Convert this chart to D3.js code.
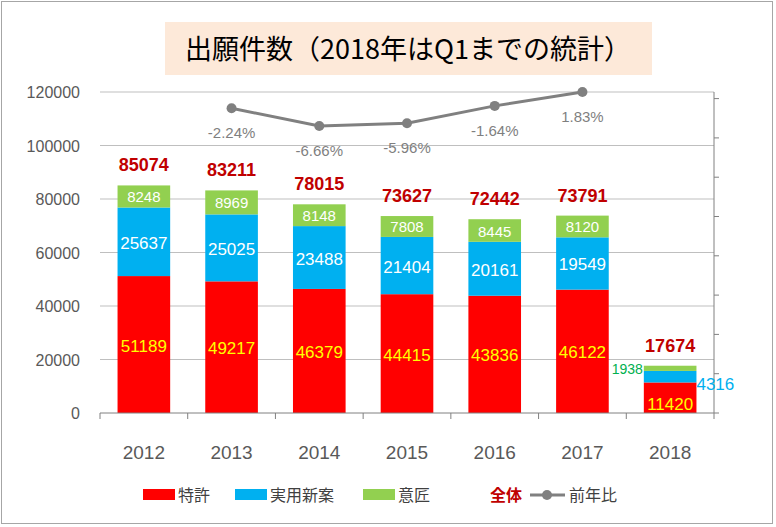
<!DOCTYPE html>
<html><head><meta charset="utf-8">
<script src="https://cdn.jsdelivr.net/npm/d3@7"></script>
<style>body{margin:0;background:#fff;font-family:"Liberation Sans",Arial,sans-serif}</style>
</head><body>
<svg id="chart" width="776" height="527"></svg>
<script>
const years = ["2012","2013","2014","2015","2016","2017","2018"];
const patent = [51189,49217,46379,44415,43836,46122,11420];
const utility = [25637,25025,23488,21404,20161,19549,4316];
const design = [8248,8969,8148,7808,8445,8120,1938];
const total = [85074,83211,78015,73627,72442,73791,17674];
const yoy = [null,-2.24,-6.66,-5.96,-1.64,1.83,null];
const yTicks = [0,20000,40000,60000,80000,100000,120000];

const svg = d3.select("#chart");
const m = {l:100, r:714, t:92, b:413};

svg.append("rect").attr("x",1.5).attr("y",1.5).attr("width",771).attr("height",522)
  .attr("fill","#fff").attr("stroke","#a6a6a6");

// title
svg.append("rect").attr("x",165).attr("y",22).attr("width",487).attr("height",53).attr("fill","#fde9d9");
svg.append("text").attr("x",408).attr("y",59).attr("text-anchor","middle")
  .style("font-size","27px").style("font-family","'Noto Sans CJK JP',sans-serif")
  .text("出願件数（2018年はQ1までの統計）");

const x = d3.scaleBand().domain(years).range([m.l,m.r]).paddingInner(0.4).paddingOuter(0.2);
const y = d3.scaleLinear().domain([0,120000]).range([m.b,m.t]);
const y2 = d3.scaleLinear().domain([-6.66,1.83]).range([y(107300),y(120000)]);

// gridlines
svg.append("g").selectAll("line").data(yTicks.slice(1)).join("line")
  .attr("x1",m.l).attr("x2",m.r).attr("y1",d=>y(d)).attr("y2",d=>y(d)).attr("stroke","#bfbfbf");

// left axis labels
svg.append("g").selectAll("text").data(yTicks).join("text")
  .attr("x",80).attr("y",d=>y(d)+6).attr("text-anchor","end")
  .attr("fill","#595959").style("font-size","16px").text(d=>d);

// right axis (ticks only)
svg.append("line").attr("x1",m.r).attr("x2",m.r).attr("y1",m.t).attr("y2",m.b).attr("stroke","#808080");
svg.append("g").selectAll("line").data(d3.range(9)).join("line")
  .attr("x1",m.r).attr("x2",m.r+5).attr("y1",d=>m.b-d*39.3).attr("y2",d=>m.b-d*39.3).attr("stroke","#808080");

// stacks
const series = [
  {vals:patent,color:"#ff0000"},
  {vals:utility,color:"#00b0f0"},
  {vals:design,color:"#92d050"}
];
years.forEach((yr,i)=>{
  let base=0;
  series.forEach(s=>{
    svg.append("rect").attr("x",x(yr)).attr("width",x.bandwidth())
      .attr("y",y(base+s.vals[i])).attr("height",y(base)-y(base+s.vals[i])).attr("fill",s.color);
    base+=s.vals[i];
  });
});

// baseline + category ticks
svg.append("line").attr("x1",m.l).attr("x2",m.r).attr("y1",m.b).attr("y2",m.b).attr("stroke","#808080");
svg.append("g").selectAll("line").data(d3.range(8)).join("line")
  .attr("x1",d=>m.l+d*x.step()).attr("x2",d=>m.l+d*x.step()).attr("y1",m.b).attr("y2",m.b+6).attr("stroke","#808080");
svg.append("g").selectAll("text").data(years).join("text")
  .attr("x",d=>x(d)+x.bandwidth()/2).attr("y",459).attr("text-anchor","middle")
  .attr("fill","#595959").style("font-size","19px").text(d=>d);

// segment labels
const cx = i=>x(years[i])+x.bandwidth()/2;
years.forEach((yr,i)=>{
  if(i<6){
    svg.append("text").attr("x",cx(i)).attr("y",y(patent[i]/2)+7).attr("text-anchor","middle")
      .attr("fill","#ffff00").style("font-size","17px").text(patent[i]);
    svg.append("text").attr("x",cx(i)).attr("y",y(patent[i]+utility[i]/2)+7).attr("text-anchor","middle")
      .attr("fill","#fff").style("font-size","17px").text(utility[i]);
    svg.append("text").attr("x",cx(i)).attr("y",y(patent[i]+utility[i]+design[i]/2)+6).attr("text-anchor","middle")
      .attr("fill","#fff").style("font-size","15px").text(design[i]);
  } else {
    svg.append("text").attr("x",cx(i)).attr("y",y(patent[i]/2)+12).attr("text-anchor","middle")
      .attr("fill","#ffff00").style("font-size","17px").text(patent[i]);
    svg.append("text").attr("x",x(yr)+x.bandwidth()).attr("y",y(patent[i]+utility[i]/2)+13)
      .attr("fill","#00b0f0").style("font-size","17px").text(utility[i]);
    svg.append("text").attr("x",x(yr)-1).attr("y",y(total[i])+8).attr("text-anchor","end")
      .attr("fill","#00b050").style("font-size","14px").text(design[i]);
  }
  svg.append("text").attr("x",cx(i)).attr("y",y(total[i])-14).attr("text-anchor","middle")
    .attr("fill","#c00000").style("font-size","18px").style("font-weight","bold").text(total[i]);
});

// yoy line
const pts = years.map((yr,i)=>({i,v:yoy[i]})).filter(d=>d.v!==null);
svg.append("path").datum(pts).attr("fill","none").attr("stroke","#808080").attr("stroke-width",3)
  .attr("d",d3.line().x(d=>cx(d.i)).y(d=>y2(d.v)));
svg.append("g").selectAll("circle").data(pts).join("circle")
  .attr("cx",d=>cx(d.i)).attr("cy",d=>y2(d.v)).attr("r",5).attr("fill","#808080");
svg.append("g").selectAll("text").data(pts).join("text")
  .attr("x",d=>cx(d.i)).attr("y",d=>y2(d.v)+(d.i===5?30:30)).attr("text-anchor","middle")
  .attr("fill","#7f7f7f").style("font-size","15px").text(d=>d.v.toFixed(2)+"%");

// legend
const lg = svg.append("g").style("font-family","'Noto Sans CJK JP',sans-serif").style("font-size","16px");
[[143,"#ff0000","特許"],[235,"#00b0f0","実用新案"],[363,"#92d050","意匠"]].forEach(([lx,c,t])=>{
  lg.append("rect").attr("x",lx).attr("y",489).attr("width",32).attr("height",11).attr("fill",c);
  lg.append("text").attr("x",lx+35).attr("y",501).attr("fill","#404040").text(t);
});
lg.append("text").attr("x",490).attr("y",501).attr("fill","#c00000").style("font-weight","bold").text("全体");
lg.append("line").attr("x1",530).attr("x2",565).attr("y1",495).attr("y2",495).attr("stroke","#808080").attr("stroke-width",3);
lg.append("circle").attr("cx",547).attr("cy",495).attr("r",5).attr("fill","#808080");
lg.append("text").attr("x",569).attr("y",501).attr("fill","#404040").text("前年比");
</script>
</body></html>
